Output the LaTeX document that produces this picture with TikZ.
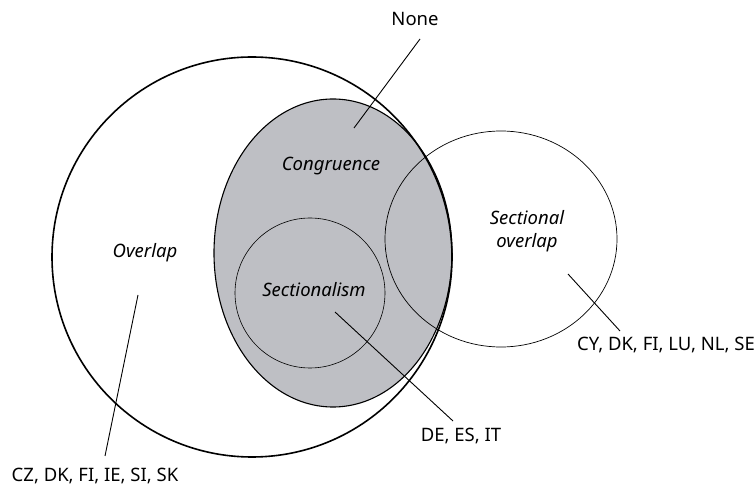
\documentclass[tikz,border=0pt]{standalone}
\usepackage{fontspec}
\setmainfont{Noto Sans}
\usepackage{tikz}
\definecolor{congrey}{RGB}{190,191,196}

\begin{document}
\begin{tikzpicture}[x=1pt,y=-1pt,
    lbl/.style={inner sep=0pt, font=\fontsize{18.5}{23}\selectfont},
    region/.style={lbl, font=\fontsize{18.5}{23}\selectfont\itshape, align=center},
    leader/.style={line width=0.9pt}]
    \useasboundingbox (0,0) rectangle (756,486);
    % Congruence (grey ellipse)
    \filldraw[fill=congrey, line width=1.1pt] (333,253) ellipse (119pt and 154pt);
    % Sectionalism and sectional overlap
    \draw[line width=0.6pt] (310,293) ellipse (75pt and 75pt);
    \draw[line width=0.7pt] (501,239) ellipse (116pt and 108pt);
    % Overlap (large circle)
    \draw[line width=1.6pt] (252,257) ellipse (200pt and 200pt);
    % Region names
    \node[region] (congruence) at (331,166) {Congruence};
    \node[region] (overlap) at (145,253) {Overlap};
    \node[region] (sectionalism) at (314,290) {Sectionalism};
    \node[region] (secoverlap) at (527,231) {Sectional\\overlap};
    % Country labels
    \node[lbl] (none) at (415,19) {None};
    \node[lbl] (cy) at (666,345) {CY, DK, FI, LU, NL, SE};
    \node[lbl] (de) at (461,436) {DE, ES, IT};
    \node[lbl] (cz) at (95,476) {CZ, DK, FI, IE, SI, SK};
    % Leader ends
    \coordinate (none-top) at (420,39);
    \coordinate (none-end) at (354,128);
    \coordinate (cy-top) at (620,331);
    \coordinate (cy-end) at (568,274);
    \coordinate (de-top) at (453,421);
    \coordinate (de-end) at (335,312);
    \coordinate (cz-top) at (105,456);
    \coordinate (cz-end) at (138,295);
    % Leaders
    \draw[leader] (none-top) -- (none-end);
    \draw[leader] (cy-top) -- (cy-end);
    \draw[leader] (de-top) -- (de-end);
    \draw[leader] (cz-top) -- (cz-end);
\end{tikzpicture}
\end{document}
